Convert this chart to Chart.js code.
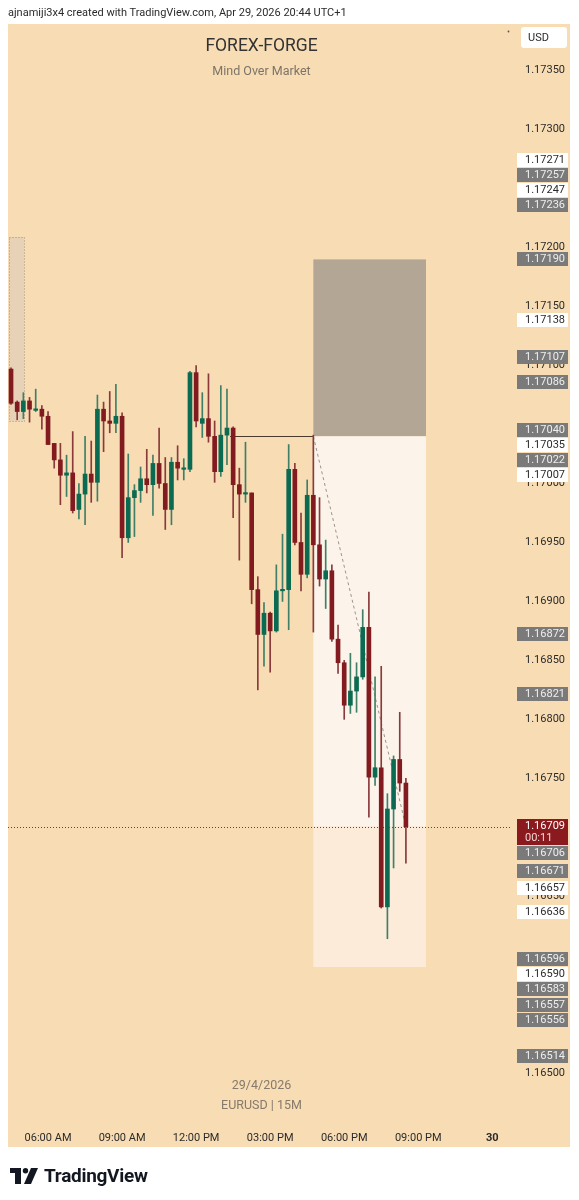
<!DOCTYPE html>
<html>
<head>
<meta charset="utf-8">
<script src="https://cdn.jsdelivr.net/npm/chart.js@4.4.1/dist/chart.umd.min.js"></script>
<style>
html,body{margin:0;padding:0;background:#fff;width:579px;height:1200px;overflow:hidden;}
#wrap{position:relative;width:579px;height:1200px;}
canvas{position:absolute;left:0;top:0;}
#hdr{position:absolute;left:8px;top:6px;font:11px Roboto, sans-serif;color:#2b2b2b;white-space:nowrap;}
#logo{position:absolute;left:10px;top:1164px;display:flex;align-items:center;}
#logo span{font:bold 19px Roboto, sans-serif;color:#131722;margin-left:6px;letter-spacing:-0.3px;}
</style>
</head>
<body>
<div id="wrap">
<canvas id="c" width="579" height="1200"></canvas>
<div id="hdr">ajnamiji3x4 created with TradingView.com, Apr 29, 2026 20:44 UTC+1</div>
<div id="logo"><svg width="28" height="16" viewBox="0 0 28 16"><path d="M0 0H11V16H5V5H0Z" fill="#131722"/><circle cx="15.5" cy="2.7" r="2.7" fill="#131722"/><path d="M21 0H28L21 16H14Z" fill="#131722"/></svg><span>TradingView</span></div>
</div>
<script>
// ---- data (EURUSD 15M, 29/4/2026) ----
const times = ['04:30','04:45','05:00','05:15','05:30','05:45','06:00','06:15','06:30','06:45','07:00','07:15','07:30','07:45','08:00','08:15','08:30','08:45','09:00','09:15','09:30','09:45','10:00','10:15','10:30','10:45','11:00','11:15','11:30','11:45','12:00','12:15','12:30','12:45','13:00','13:15','13:30','13:45','14:00','14:15','14:30','14:45','15:00','15:15','15:30','15:45','16:00','16:15','16:30','16:45','17:00','17:15','17:30','17:45','18:00','18:15','18:30','18:45','19:00','19:15','19:30','19:45','20:00','20:15','20:30'];
const opens = [1.17097,1.17069,1.17061,1.17070,1.17062,1.17063,1.17057,1.17034,1.17020,1.17007,1.17009,1.16978,1.16991,1.17008,1.17001,1.17063,1.17053,1.17051,1.17057,1.16954,1.16988,1.16994,1.17004,1.16999,1.17017,1.17000,1.16978,1.17018,1.17012,1.17012,1.17094,1.17051,1.17055,1.17040,1.17010,1.17041,1.17047,1.16999,1.16991,1.16992,1.16910,1.16872,1.16890,1.16875,1.16909,1.16910,1.17012,1.16950,1.16923,1.16990,1.16948,1.16919,1.16926,1.16868,1.16848,1.16812,1.16824,1.16836,1.16878,1.16751,1.16759,1.16641,1.16724,1.16766,1.16746];
const highs = [1.17098,1.17070,1.17077,1.17073,1.17080,1.17066,1.17061,1.17034,1.17034,1.17024,1.17044,1.17000,1.17040,1.17036,1.17075,1.17069,1.17078,1.17084,1.17060,1.17025,1.16999,1.17014,1.17029,1.17024,1.17047,1.17022,1.17022,1.17032,1.17021,1.17095,1.17100,1.17077,1.17093,1.17053,1.17083,1.17080,1.17048,1.17013,1.17035,1.16992,1.16921,1.16899,1.16891,1.16931,1.16957,1.17033,1.17017,1.16975,1.17003,1.17041,1.16988,1.16952,1.16931,1.16880,1.16850,1.16856,1.16848,1.16893,1.16908,1.16836,1.16845,1.16737,1.16769,1.16806,1.16750];
const lows = [1.17067,1.17054,1.17055,1.17052,1.17061,1.17046,1.17033,1.17013,1.16982,1.16989,1.16975,1.16970,1.16965,1.16984,1.16985,1.17027,1.17043,1.17043,1.16937,1.16950,1.16955,1.16984,1.16992,1.16973,1.16996,1.16961,1.16965,1.17003,1.17003,1.17010,1.17048,1.17039,1.17035,1.17001,1.17006,1.17016,1.16971,1.16935,1.16984,1.16898,1.16825,1.16845,1.16840,1.16874,1.16900,1.16876,1.16948,1.16909,1.16920,1.16874,1.16913,1.16894,1.16866,1.16839,1.16800,1.16805,1.16806,1.16834,1.16717,1.16744,1.16640,1.16614,1.16674,1.16739,1.16678];
const closes = [1.17068,1.17061,1.17070,1.17063,1.17063,1.17057,1.17033,1.17020,1.17007,1.17009,1.16977,1.16991,1.17008,1.17001,1.17063,1.17053,1.17051,1.17057,1.16954,1.16988,1.16994,1.17004,1.16999,1.17017,1.17000,1.16978,1.17018,1.17013,1.17013,1.17094,1.17053,1.17055,1.17040,1.17010,1.17041,1.17047,1.16999,1.16991,1.16992,1.16910,1.16872,1.16890,1.16875,1.16909,1.16910,1.17012,1.16950,1.16923,1.16990,1.16948,1.16919,1.16926,1.16868,1.16848,1.16812,1.16824,1.16836,1.16878,1.16751,1.16759,1.16641,1.16724,1.16766,1.16746,1.16709];

const yTicks = [1.1735,1.1730,1.1725,1.1720,1.1715,1.1710,1.1705,1.1700,1.1695,1.1690,1.1685,1.1680,1.1675,1.1670,1.1665,1.1660,1.1655,1.1650];
const xTickIdx = [6,18,30,42,54,66,78];
const xTickLabels = ['06:00 AM','09:00 AM','12:00 PM','03:00 PM','06:00 PM','09:00 PM','30'];

const labelPrices = [1.17271,1.17257,1.17247,1.17236,1.17190,1.17138,1.17107,1.17086,1.17040,1.17035,1.17022,1.17007,1.16872,1.16821,1.16706,1.16671,1.16657,1.16636,1.16596,1.16590,1.16583,1.16557,1.16556,1.16514];
const labelKinds  = ['w','g','w','g','g','w','g','g','g','w','g','w','g','g','g','g','w','w','g','w','g','g','g','g'];
const anchoredLabels = [1.17236,1.17007,1.16596,1.16557];
const countdown = '00:11';

// drawings
const positionX = [49, 67.25];
const positionPrices = [1.17190, 1.17040, 1.16590]; // stop, entry, target
const entryLineX = [35.5, 49];
const rangeBoxX = [-0.32, 2.1];
const rangeBoxPrices = [1.17209, 1.17053];

// ---- styles ----
const UP = '#0b6a52', DOWN = '#821b1f';
const BG = '#f7dcb4';
const FONT = 'Roboto, "Liberation Sans", sans-serif';

const idx = times.map((t,i)=>i);
const colors = idx.map(i => closes[i] >= opens[i] ? UP : DOWN);
const wickColors = idx.map(i => closes[i] >= opens[i] ? '#3f7f68' : '#8a3a3a');
const lastPrice = closes[closes.length-1];

function layoutLabels(items){
  items.sort((p,q)=>p.y-q.y);
  const gap = 0;
  const groups = items.map(it=>({items:[it]}));
  function place(g){
    let off=0, s=0, sw=0;
    g.items.forEach(it=>{ it.off=off; s += it.w*(it.y - off - it.a); sw += it.w; off += it.h + gap; });
    g.top = s/sw; g.bottom = g.top + off - gap;
  }
  groups.forEach(place);
  let merged = true;
  while(merged){
    merged = false;
    for(let i=0;i<groups.length-1;i++){
      if(groups[i].bottom + gap > groups[i+1].top + 0.01){
        groups[i].items = groups[i].items.concat(groups[i+1].items);
        groups.splice(i+1,1); place(groups[i]); merged = true; break;
      }
    }
  }
  groups.forEach(g=>g.items.forEach(it=>{ it.top = g.top + it.off; }));
  return items;
}

const decor = {
  id:'decor',
  beforeDraw(chart){
    const c = chart.ctx, a = chart.chartArea, sx = chart.scales.x, sy = chart.scales.y;
    c.save();
    c.fillStyle = BG;
    c.fillRect(a.left, a.top, sy.right - a.left, sx.bottom - a.top);
    c.restore();
  },
  beforeDatasetsDraw(chart){
    const c = chart.ctx, a = chart.chartArea, sx = chart.scales.x, sy = chart.scales.y;
    c.save();
    c.beginPath(); c.rect(a.left, a.top, a.right-a.left, a.bottom-a.top); c.clip();
    // watermark
    c.textAlign = 'center'; c.textBaseline = 'middle';
    const cx = 261.5;
    c.fillStyle = '#333'; c.font = '17.5px ' + FONT; c.fillText('FOREX-FORGE', cx, 47);
    c.fillStyle = '#7d7468'; c.font = '12.5px ' + FONT; c.fillText('Mind Over Market', cx, 71.5);
    c.fillStyle = '#857a6c'; c.font = '12.5px ' + FONT;
    c.fillText('29/4/2026', cx, 1086); c.fillText('EURUSD | 15M', cx, 1106);
    // range box
    const rx0 = sx.getPixelForValue(rangeBoxX[0]), rx1 = sx.getPixelForValue(rangeBoxX[1]);
    const ry0 = sy.getPixelForValue(rangeBoxPrices[0]), ry1 = sy.getPixelForValue(rangeBoxPrices[1]);
    c.fillStyle = '#e7d2b7'; c.fillRect(rx0, ry0, rx1-rx0, ry1-ry0);
    c.strokeStyle = '#9c9184'; c.lineWidth = 1; c.setLineDash([1,2]);
    c.strokeRect(Math.round(rx0)+0.5, Math.round(ry0)+0.5, Math.round(rx1-rx0), Math.round(ry1-ry0));
    c.setLineDash([]);
    // position tool
    const px0 = sx.getPixelForValue(positionX[0]), px1 = sx.getPixelForValue(positionX[1]);
    const yStop = sy.getPixelForValue(positionPrices[0]), yEntry = sy.getPixelForValue(positionPrices[1]), yTgt = sy.getPixelForValue(positionPrices[2]);
    const yCur = sy.getPixelForValue(lastPrice);
    c.fillStyle = '#b3a694'; c.fillRect(px0, yStop, px1-px0, yEntry-yStop);
    c.fillStyle = '#fcf4ea'; c.fillRect(px0, yEntry, px1-px0, yCur-yEntry);
    c.fillStyle = '#fbebd8'; c.fillRect(px0, yCur, px1-px0, yTgt-yCur);
    // entry line
    c.strokeStyle = '#4a3a2e'; c.lineWidth = 1;
    c.beginPath(); c.moveTo(sx.getPixelForValue(entryLineX[0]), Math.round(yEntry)+0.5); c.lineTo(sx.getPixelForValue(entryLineX[1]), Math.round(yEntry)+0.5); c.stroke();
    // dashed path to current price
    c.strokeStyle = '#9a9590'; c.setLineDash([3,3]);
    c.beginPath(); c.moveTo(px0, yEntry); c.lineTo(sx.getPixelForValue(times.length-1), yCur); c.stroke();
    // current price dotted line
    c.strokeStyle = '#7a3a34'; c.setLineDash([1,2]);
    c.beginPath(); c.moveTo(a.left, Math.round(yCur)+0.5); c.lineTo(a.right, Math.round(yCur)+0.5); c.stroke();
    c.setLineDash([]);
    c.restore();
  },
  afterDraw(chart){
    const c = chart.ctx, sy = chart.scales.y, sx = chart.scales.x;
    const bx = 517, bw = 51;
    const items = labelPrices.map((p,i)=>({p, kind:labelKinds[i], y:sy.getPixelForValue(p), h:15, a:7.5, w: anchoredLabels.includes(p) ? 1000 : 1}));
    items.push({p:lastPrice, kind:'cur', y:sy.getPixelForValue(lastPrice), h:27, a:8, w:100000});
    layoutLabels(items);
    c.save();
    // hide tick labels whose centre falls inside a price label
    yTicks.forEach(t=>{
      const ty = sy.getPixelForValue(t);
      if(items.some(it=>ty >= it.top && ty <= it.top + it.h)){
        c.fillStyle = BG; c.fillRect(sy.left+1, ty-7, sy.right - sy.left - 1, 14);
      }
    });
    c.textBaseline = 'middle'; c.textAlign = 'left';
    c.font = '11px ' + FONT;
    items.forEach(it=>{
      const top = Math.round(it.top);
      if(it.kind === 'cur'){
        c.fillStyle = '#8b1a1e'; c.fillRect(bx, top, bw, 26);
        c.fillStyle = '#ffffff';
        c.fillText(it.p.toFixed(5), 525, top + 7.5);
        c.fillStyle = '#f0d6d6';
        c.fillText(countdown, 525, top + 19);
      } else {
        c.fillStyle = it.kind === 'g' ? '#7a7a7a' : '#ffffff';
        c.fillRect(bx, top, bw, 14);
        c.fillStyle = it.kind === 'g' ? '#eeeeee' : '#2b2b2b';
        c.fillText(it.p.toFixed(5), 525, top + 7.5);
      }
    });
    // USD box
    c.fillStyle = '#ffffff';
    c.beginPath(); c.roundRect(521, 27, 46, 21, 3); c.fill();
    c.fillStyle = '#2b2b2b'; c.font = '11px ' + FONT; c.fillText('USD', 528, 38);
    c.fillStyle = '#555'; c.beginPath(); c.arc(508.5, 31.5, 0.9, 0, Math.PI*2); c.fill();
    c.restore();
  }
};

new Chart(document.getElementById('c'), {
  type:'bar',
  data:{
    datasets:[
      { label:'body', data: idx.map(i=>({x:i, y:[opens[i], closes[i]]})), backgroundColor: colors,
        barThickness:4, minBarLength:1.5, grouped:false, order:0, borderWidth:0, borderSkipped:false },
      { label:'wick', data: idx.map(i=>({x:i, y:[lows[i], highs[i]]})), backgroundColor: wickColors,
        barThickness:1, grouped:false, order:1, borderWidth:0, borderSkipped:false }
    ]
  },
  options:{
    responsive:false, animation:false, devicePixelRatio:1,
    layout:{ padding:{ left:8, right:9, top:24, bottom:53 } },
    plugins:{ legend:{display:false}, tooltip:{enabled:false} },
    scales:{
      x:{ type:'linear', min:-0.49, max:80.87, offset:false,
          grid:{display:false, drawTicks:false}, border:{display:false},
          afterFit(s){ s.height = 27; },
          afterBuildTicks(s){ s.ticks = xTickIdx.map(v=>({value:v})); },
          ticks:{ autoSkip:false, maxRotation:0, padding:12, color:'#2b2b2b',
            font:(ctx)=>({family:FONT, size:11, weight:(ctx.tick && ctx.tick.value===78)?'bold':'normal'}),
            callback:(v)=>{ const k = xTickIdx.indexOf(v); return k>=0 ? xTickLabels[k] : ''; } } },
      y:{ type:'linear', position:'right', min:1.164603, max:1.173896,
          grid:{display:false, drawTicks:false}, border:{display:false},
          afterFit(s){ s.width = 60; },
          afterBuildTicks(s){ s.ticks = yTicks.map(v=>({value:v})); },
          ticks:{ padding:15, crossAlign:'near', color:'#2b2b2b', font:{family:FONT, size:11},
            callback:(v)=>Number(v).toFixed(5) } }
    }
  },
  plugins:[decor]
});
</script>
</body>
</html>
